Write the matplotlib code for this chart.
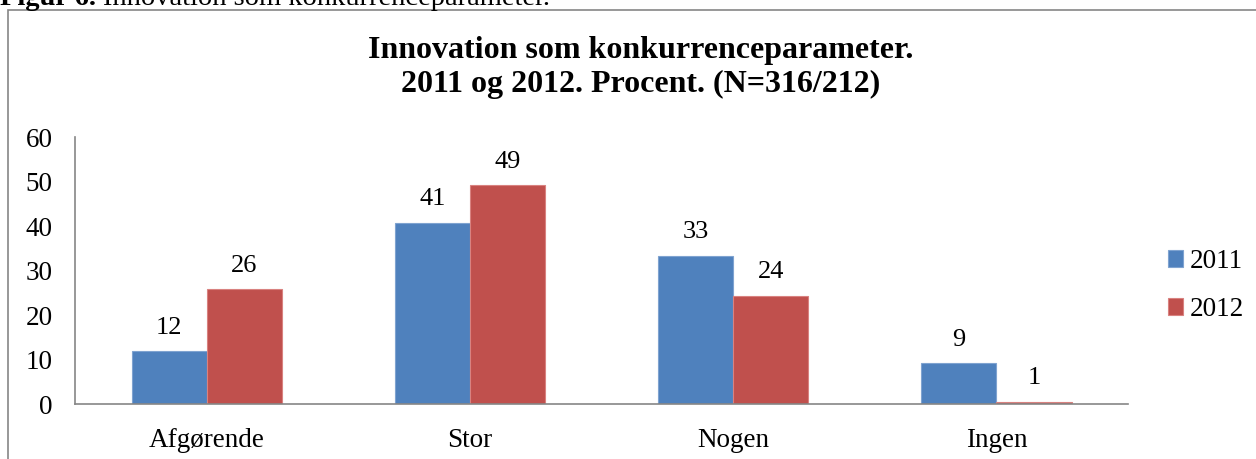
import matplotlib
matplotlib.use('Agg')
from matplotlib import pyplot as plt
from matplotlib.patches import Rectangle
import numpy as np

# Data
categories = ['Afgørende', 'Stor', 'Nogen', 'Ingen']
years = ['2011', '2012']
values_2011 = [11.9, 40.7, 33.3, 9.2]
values_2012 = [25.8, 49.2, 24.3, 0.5]
labels_2011 = ['12', '41', '33', '9']
labels_2012 = ['26', '49', '24', '1']

plt.rcParams['font.family'] = ['Liberation Serif', 'DejaVu Serif']

fig = plt.figure(figsize=(12.56, 4.59), dpi=100)
ax = fig.add_axes([0.0597, 0.1198, 0.8385, 0.5817])

x = np.arange(len(categories))
w = 0.285
b1 = ax.bar(x - w / 2, values_2011, w, color='#4F81BD', edgecolor='#7FA3D0', linewidth=0.8, label=years[0])
b2 = ax.bar(x + w / 2, values_2012, w, color='#C0504D', edgecolor='#D98280', linewidth=0.8, label=years[1])

for bars, labs in [(b1, labels_2011), (b2, labels_2012)]:
    for bar, lab in zip(bars, labs):
        ax.annotate(lab, (bar.get_x() + bar.get_width() / 2, bar.get_height()),
                    xytext=(0, 9), textcoords='offset points',
                    ha='center', va='bottom', fontsize=19)

ax.set_xlim(-0.5, 3.5)
ax.set_ylim(0, 60)
ax.set_yticks(range(0, 61, 10))
ax.set_xticks(x)
ax.set_xticklabels(categories)
ax.tick_params(axis='both', length=0, labelsize=19.5)
ax.tick_params(axis='y', pad=16)
ax.tick_params(axis='x', pad=17)
for s in ['top', 'right']:
    ax.spines[s].set_visible(False)
for s in ['left', 'bottom']:
    ax.spines[s].set_color('#868686')
    ax.spines[s].set_linewidth(1.2)

fig.legend(handles=[b1, b2], loc='center left', bbox_to_anchor=(1168 / 1256, 1 - 285.5 / 459),
           frameon=False, fontsize=19.5, handlelength=0.55, handleheight=0.55,
           handletextpad=0.25, labelspacing=0.85, borderpad=0, borderaxespad=0)

fig.text(0.51, 1 - 67.5 / 459, 'Innovation som konkurrenceparameter.\n2011 og 2012. Procent. (N=316/212)',
         ha='center', va='center', fontsize=23, fontweight='bold', linespacing=1.25)

# Caption above chart box (partly cut off)
cap_y = 1 - 5 / 459
t1 = fig.text(0.0, cap_y, 'Figur 6. ', ha='left', va='baseline', fontsize=20.5, fontweight='bold')
renderer = fig.canvas.get_renderer()
bb = t1.get_window_extent(renderer).transformed(fig.transFigure.inverted())
fig.text(bb.x1, cap_y, 'Innovation som konkurrenceparameter.', ha='left', va='baseline', fontsize=20.5)

# Chart border
fig.patches.append(Rectangle((8 / 1256, -0.1), 1.2, 1.1 - 10.5 / 459, transform=fig.transFigure,
                             fill=False, edgecolor='#868686', linewidth=1.2))

fig.savefig('out.png', dpi=100)
